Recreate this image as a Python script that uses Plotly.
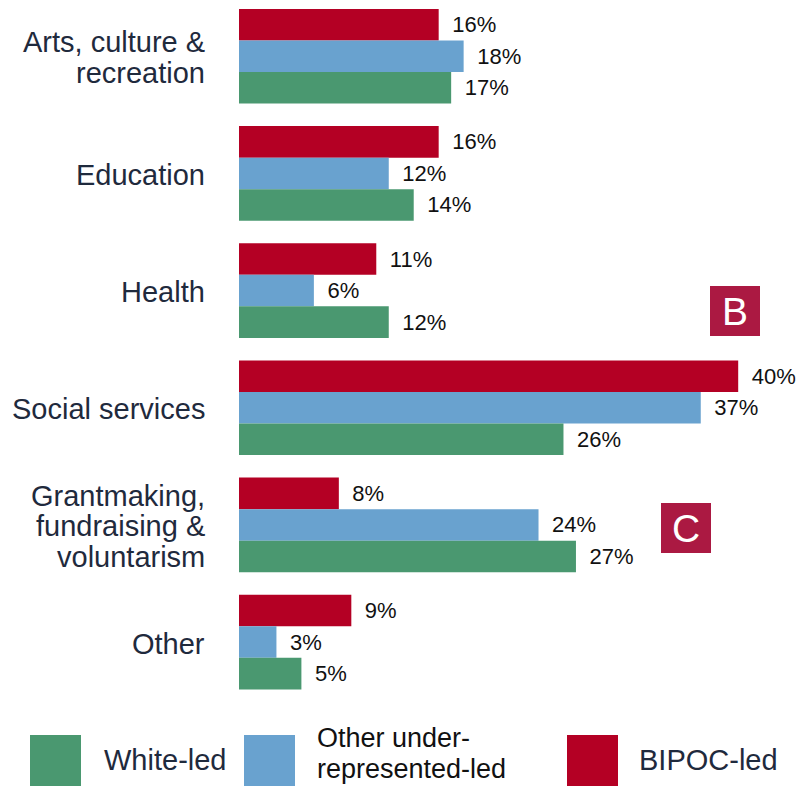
import plotly.graph_objects as go

# Share of organisations by primary field of work, by leadership group
categories = ["Arts, culture & recreation", "Education", "Health",
              "Social services", "Grantmaking, fundraising & voluntarism", "Other"]
category_lines = [["Arts, culture &", "recreation"], ["Education"], ["Health"],
                  ["Social services"], ["Grantmaking,", "fundraising &", "voluntarism"],
                  ["Other"]]
bipoc_led = [16, 16, 11, 40, 8, 9]
other_underrep_led = [18, 12, 6, 37, 24, 3]
white_led = [17, 14, 12, 26, 27, 5]

series = [
    ("BIPOC-led", bipoc_led, "#B40024"),
    ("Other under-represented-led", other_underrep_led, "#69A2CF"),
    ("White-led", white_led, "#4A9870"),
]

FONT = "Liberation Sans, Arial, Helvetica, sans-serif"
NAVY = "#1F2A3D"

W_PX, H_PX = 800, 787
L, T, R, B = 239, 0, 10, 84
PW, PH = W_PX - L - R, H_PX - T - B
PX_PER_PCT = 12.48


def paper_x(px):
    return (px - L) / PW


def paper_y(py):
    return 1 - (py - T) / PH


fig = go.Figure()
ypos = list(range(len(categories)))
for name, vals, color in series:
    fig.add_trace(go.Bar(
        y=ypos, x=vals, name=name, orientation="h",
        marker=dict(color=color, line=dict(width=0)),
        text=[f"\u00a0\u2009{v}%" for v in vals],
        textposition="outside", cliponaxis=False, constraintext="none",
        textfont=dict(family=FONT, size=22, color="#111111"),
        hoverinfo="skip",
    ))

annotations = []
# Category labels, one annotation per line for tight line spacing
LINE_GAP = 30.5
for i, lines in enumerate(category_lines):
    n = len(lines)
    for k, line in enumerate(lines):
        offset = (k - (n - 1) / 2) * LINE_GAP + 1.5
        annotations.append(dict(
            x=0, xref="paper", y=i, yref="y", text=line, showarrow=False,
            xanchor="right", yanchor="middle", xshift=-32, yshift=-offset,
            font=dict(family=FONT, size=29, color=NAVY),
        ))

shapes = []
# Legend swatches and labels: (swatch left, colour, lines, text left, line centres, size, text colour)
legend_items = [
    (30, "#4A9870", ["White-led"], 102, [760], 29, NAVY),
    (244, "#69A2CF", ["Other under-", "represented-led"], 315, [738, 769], 27, "#111111"),
    (567, "#B40024", ["BIPOC-led"], 637, [760], 29, NAVY),
]
for sx, color, lines, tx, centres, size, tcolor in legend_items:
    shapes.append(dict(type="rect", xref="paper", yref="paper",
                       x0=paper_x(sx), x1=paper_x(sx + 51),
                       y0=paper_y(786), y1=paper_y(735),
                       fillcolor=color, line=dict(width=0), layer="above"))
    for line, cy in zip(lines, centres):
        annotations.append(dict(
            x=paper_x(tx), xref="paper", y=paper_y(cy), yref="paper",
            text=line, showarrow=False, xanchor="left", yanchor="middle",
            font=dict(family=FONT, size=size, color=tcolor),
        ))

# Marker boxes
for letter, bx, by in [("B", 710, 286), ("C", 661, 503)]:
    shapes.append(dict(type="rect", xref="paper", yref="paper",
                       x0=paper_x(bx), x1=paper_x(bx + 50),
                       y0=paper_y(by + 50), y1=paper_y(by),
                       fillcolor="#AB1942", line=dict(width=0), layer="above"))
    annotations.append(dict(
        x=paper_x(bx + 25), xref="paper", y=paper_y(by + 25), yref="paper",
        text=letter, showarrow=False, xanchor="center", yanchor="middle",
        font=dict(family=FONT, size=39, color="white"),
    ))

fig.update_layout(
    width=W_PX, height=H_PX,
    margin=dict(l=L, r=R, t=T, b=B, pad=0),
    paper_bgcolor="white", plot_bgcolor="white",
    barmode="group", bargap=0.192, bargroupgap=0,
    showlegend=False,
    xaxis=dict(range=[0, PW / PX_PER_PCT], visible=False, fixedrange=True),
    yaxis=dict(range=[5.52, -0.48], showticklabels=False, showgrid=False,
               zeroline=False, showline=False, ticks="", fixedrange=True),
    annotations=annotations, shapes=shapes,
)

fig.write_html("out.html", config={"displayModeBar": False})
